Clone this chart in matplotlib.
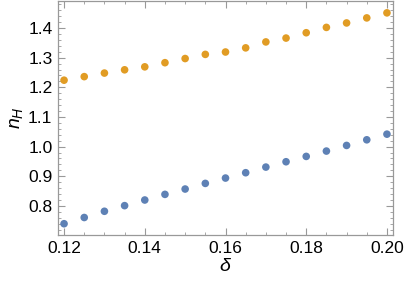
import numpy as np
import matplotlib.pyplot as plt
from matplotlib.ticker import MultipleLocator

delta = [0.12, 0.125, 0.13, 0.135, 0.14, 0.145, 0.15, 0.155, 0.16,
         0.165, 0.17, 0.175, 0.18, 0.185, 0.19, 0.195, 0.20]
n_upper = [1.224, 1.236, 1.248, 1.259, 1.269, 1.283, 1.297, 1.311, 1.319,
           1.333, 1.353, 1.366, 1.384, 1.402, 1.417, 1.434, 1.451]
n_lower = [0.740, 0.761, 0.782, 0.801, 0.820, 0.839, 0.857, 0.876, 0.894,
           0.912, 0.931, 0.949, 0.967, 0.985, 1.004, 1.023, 1.042]

plt.rcParams['font.family'] = ['Liberation Sans', 'DejaVu Sans']
plt.rcParams['mathtext.fontset'] = 'custom'
plt.rcParams['mathtext.it'] = 'Liberation Sans:italic'
plt.rcParams['mathtext.rm'] = 'Liberation Sans'

fig = plt.figure(figsize=(4.07, 2.85), dpi=100)
ax = fig.add_axes([58/407, 1 - 235/285, 335/407, 234/285])

ax.scatter(delta, n_lower, s=30, color='#5E81B5', edgecolors='none', zorder=3)
ax.scatter(delta, n_upper, s=30, color='#E19C24', edgecolors='none', zorder=3)

ax.set_xlim(0.1185, 0.2015)
ax.set_ylim(0.702, 1.491)

ax.xaxis.set_major_locator(MultipleLocator(0.02))
ax.xaxis.set_minor_locator(MultipleLocator(0.005))
ax.yaxis.set_major_locator(MultipleLocator(0.1))
ax.yaxis.set_minor_locator(MultipleLocator(0.02))
ax.set_xticks([0.12, 0.14, 0.16, 0.18, 0.20])
ax.set_xticklabels(['0.12', '0.14', '0.16', '0.18', '0.20'])
ax.set_yticks([0.8, 0.9, 1.0, 1.1, 1.2, 1.3, 1.4])
ax.set_yticklabels(['0.8', '0.9', '1.0', '1.1', '1.2', '1.3', '1.4'])

ax.tick_params(which='both', direction='in', top=True, right=True,
               color='#999999', labelsize=12.5, labelcolor='black')
ax.tick_params(which='major', length=5, width=0.8, pad=4)
ax.tick_params(which='minor', length=2.5, width=0.6)
for s in ax.spines.values():
    s.set_color('#999999')
    s.set_linewidth(0.9)

ax.set_xlabel(r'$\delta$', fontsize=14, labelpad=2)
ax.set_ylabel(r'$n_H$', fontsize=14, labelpad=2)

fig.savefig('out.png', dpi=100)
